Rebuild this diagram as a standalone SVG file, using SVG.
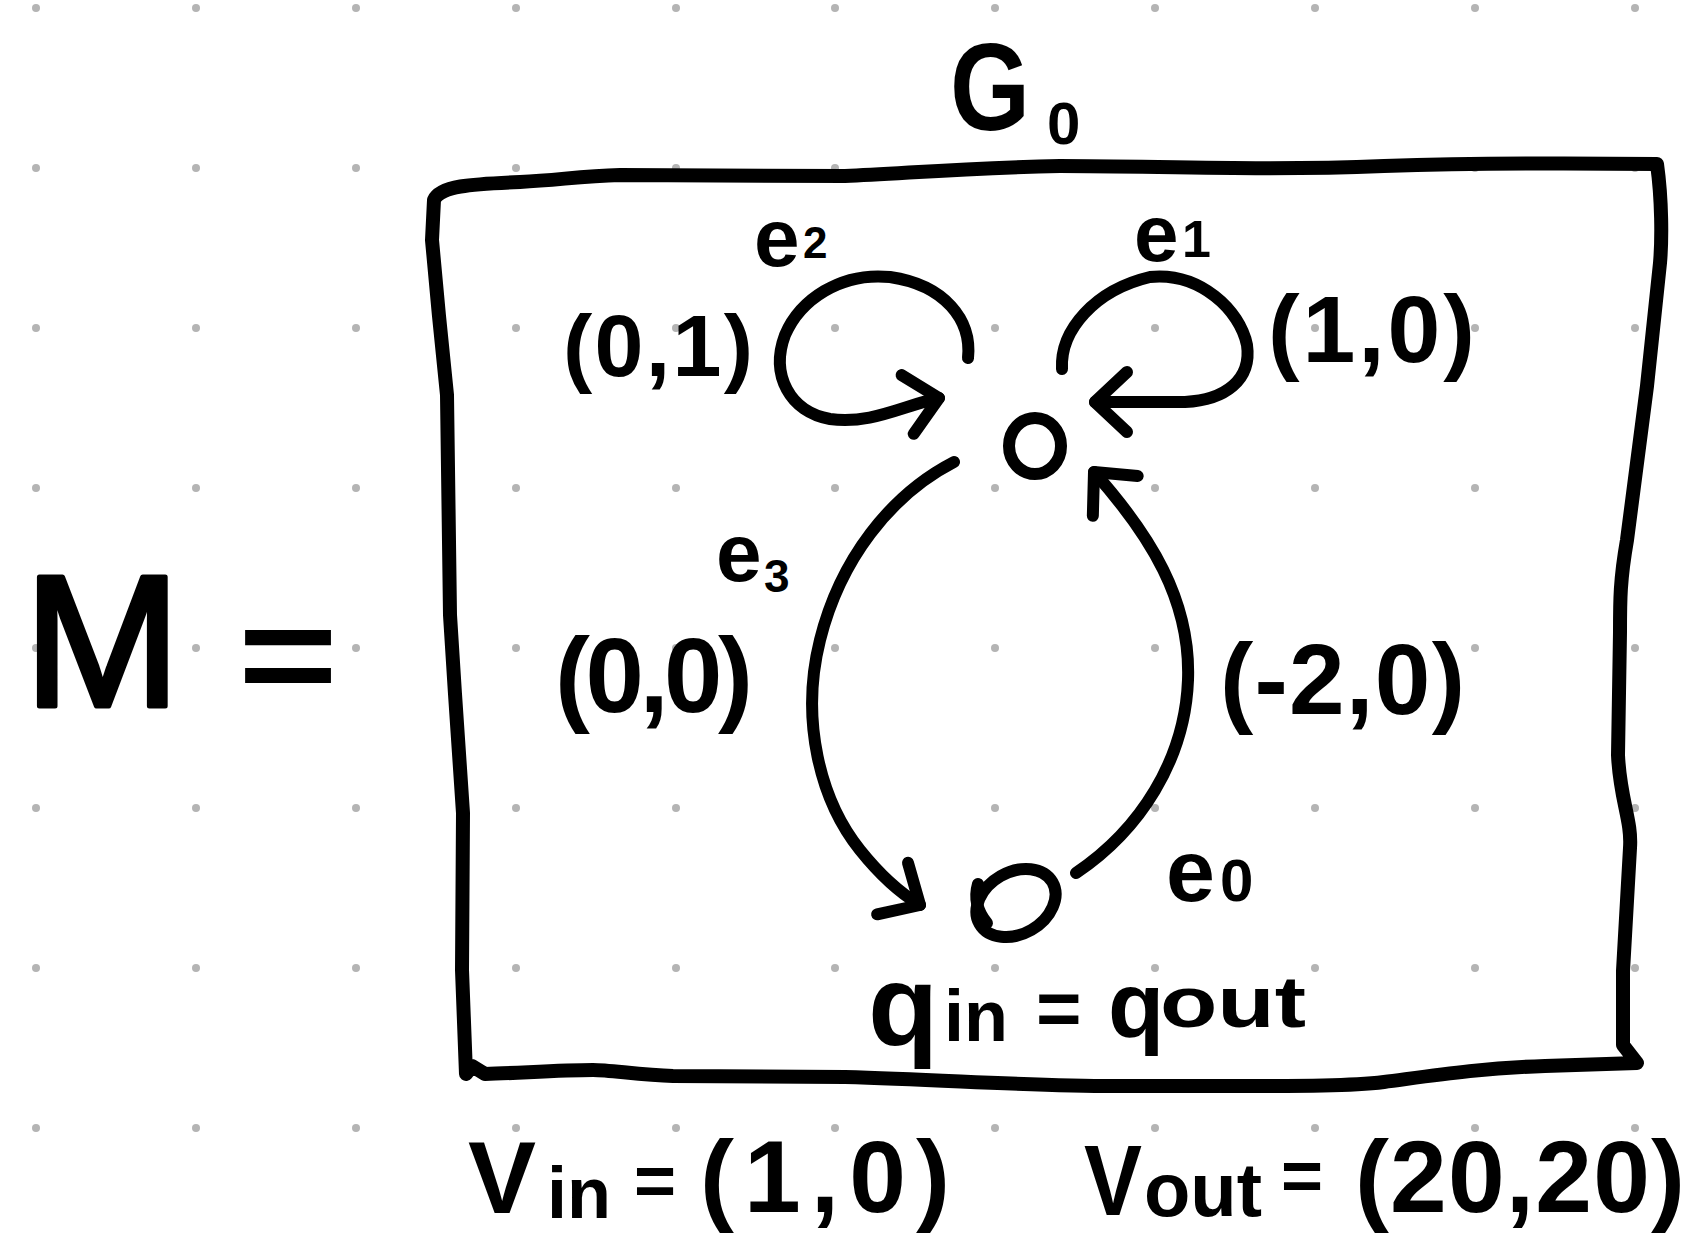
<svg xmlns="http://www.w3.org/2000/svg" width="1690" height="1235" viewBox="0 0 1690 1235">
<style>
.dot{fill:#b4b4b4}
.ink{fill:none;stroke:#000;stroke-width:12;stroke-linecap:round;stroke-linejoin:round}
.frame{fill:none;stroke:#000;stroke-width:14;stroke-linecap:round;stroke-linejoin:round}
.t{font-family:"Liberation Sans",Arial,sans-serif;font-weight:700;fill:#000}
.big{font-family:"Liberation Sans",Arial,sans-serif;font-weight:400;fill:#000;stroke:#000;stroke-width:5;stroke-linejoin:round}
</style>
<defs>
<marker id="arr" markerUnits="userSpaceOnUse" viewBox="-50 -40 60 80" refX="0" refY="0" markerWidth="60" markerHeight="80" orient="auto">
<path d="M -32,-30 L 0,0 L -32,30" fill="none" stroke="#000" stroke-width="12" stroke-linecap="round" stroke-linejoin="round"/>
</marker>
</defs>
<rect width="1690" height="1235" fill="#fff"/>
<g id="grid">
<g class="dot">
<circle cx="36" cy="8" r="4"/><circle cx="196" cy="8" r="4"/><circle cx="356" cy="8" r="4"/><circle cx="516" cy="8" r="4"/><circle cx="676" cy="8" r="4"/><circle cx="835" cy="8" r="4"/><circle cx="995" cy="8" r="4"/><circle cx="1155" cy="8" r="4"/><circle cx="1315" cy="8" r="4"/><circle cx="1475" cy="8" r="4"/><circle cx="1635" cy="8" r="4"/>
<circle cx="36" cy="168" r="4"/><circle cx="196" cy="168" r="4"/><circle cx="356" cy="168" r="4"/><circle cx="516" cy="168" r="4"/><circle cx="676" cy="168" r="4"/><circle cx="835" cy="168" r="4"/><circle cx="995" cy="168" r="4"/><circle cx="1155" cy="168" r="4"/><circle cx="1315" cy="168" r="4"/><circle cx="1475" cy="168" r="4"/><circle cx="1635" cy="168" r="4"/>
<circle cx="36" cy="328" r="4"/><circle cx="196" cy="328" r="4"/><circle cx="356" cy="328" r="4"/><circle cx="516" cy="328" r="4"/><circle cx="676" cy="328" r="4"/><circle cx="835" cy="328" r="4"/><circle cx="995" cy="328" r="4"/><circle cx="1155" cy="328" r="4"/><circle cx="1315" cy="328" r="4"/><circle cx="1475" cy="328" r="4"/><circle cx="1635" cy="328" r="4"/>
<circle cx="36" cy="488" r="4"/><circle cx="196" cy="488" r="4"/><circle cx="356" cy="488" r="4"/><circle cx="516" cy="488" r="4"/><circle cx="676" cy="488" r="4"/><circle cx="835" cy="488" r="4"/><circle cx="995" cy="488" r="4"/><circle cx="1155" cy="488" r="4"/><circle cx="1315" cy="488" r="4"/><circle cx="1475" cy="488" r="4"/><circle cx="1635" cy="488" r="4"/>
<circle cx="36" cy="648" r="4"/><circle cx="196" cy="648" r="4"/><circle cx="356" cy="648" r="4"/><circle cx="516" cy="648" r="4"/><circle cx="676" cy="648" r="4"/><circle cx="835" cy="648" r="4"/><circle cx="995" cy="648" r="4"/><circle cx="1155" cy="648" r="4"/><circle cx="1315" cy="648" r="4"/><circle cx="1475" cy="648" r="4"/><circle cx="1635" cy="648" r="4"/>
<circle cx="36" cy="808" r="4"/><circle cx="196" cy="808" r="4"/><circle cx="356" cy="808" r="4"/><circle cx="516" cy="808" r="4"/><circle cx="676" cy="808" r="4"/><circle cx="835" cy="808" r="4"/><circle cx="995" cy="808" r="4"/><circle cx="1155" cy="808" r="4"/><circle cx="1315" cy="808" r="4"/><circle cx="1475" cy="808" r="4"/><circle cx="1635" cy="808" r="4"/>
<circle cx="36" cy="968" r="4"/><circle cx="196" cy="968" r="4"/><circle cx="356" cy="968" r="4"/><circle cx="516" cy="968" r="4"/><circle cx="676" cy="968" r="4"/><circle cx="835" cy="968" r="4"/><circle cx="995" cy="968" r="4"/><circle cx="1155" cy="968" r="4"/><circle cx="1315" cy="968" r="4"/><circle cx="1475" cy="968" r="4"/><circle cx="1635" cy="968" r="4"/>
<circle cx="36" cy="1128" r="4"/><circle cx="196" cy="1128" r="4"/><circle cx="356" cy="1128" r="4"/><circle cx="516" cy="1128" r="4"/><circle cx="676" cy="1128" r="4"/><circle cx="835" cy="1128" r="4"/><circle cx="995" cy="1128" r="4"/><circle cx="1155" cy="1128" r="4"/><circle cx="1315" cy="1128" r="4"/><circle cx="1475" cy="1128" r="4"/><circle cx="1635" cy="1128" r="4"/>
</g>
</g>
<g id="lhs">
<text class="big" x="24" y="706" font-size="188">M</text>
<text class="t" x="238" y="703" font-size="140" textLength="100" lengthAdjust="spacingAndGlyphs">=</text>
</g>
<g id="G0">
<path class="frame" d="M 434,200 C 440,186 470,184 520,182 C 560,180 580,176 620,175 L 845,176 C 900,174 960,168 1060,166 C 1160,166 1260,171 1384,166 C 1480,163 1560,163 1657,164 C 1662,200 1662,240 1660,263 L 1647,386 L 1627,540 C 1620,580 1620,600 1620,632 L 1618,755 C 1620,800 1632,820 1630,848 L 1623,971 L 1623,1045 L 1637,1063 L 1545,1066 C 1480,1068 1430,1076 1384,1082 C 1350,1086 1300,1086 1250,1086 L 1114,1086 C 1030,1086 950,1080 845,1077 L 673,1076 C 640,1075 610,1070 593,1070 C 560,1070 520,1073 485,1074 L 472,1066 L 466,1074 L 462,970 L 463,813 L 455,694 L 450,615 L 447,395 L 439,316 L 432,240 Z"/>
<text class="t" x="950" y="130" font-size="125" textLength="80" lengthAdjust="spacingAndGlyphs">G</text>
<text class="t" x="1047" y="144" font-size="60">0</text>
</g>
<g id="q_top">
<ellipse class="ink" cx="1035" cy="446" rx="26" ry="28"/>
</g>
<g id="q_bottom">
<ellipse class="ink" cx="1016" cy="903" rx="42" ry="31" transform="rotate(-30 1016 903)"/>
<path class="ink" d="M 978,884 Q 972,905 987,923" stroke-width="4"/>
<text class="t" y="1045" font-size="115"><tspan x="868">q</tspan><tspan x="944" y="1041" font-size="72">in</tspan><tspan x="1036" y="1035" font-size="78">=</tspan><tspan x="1108" y="1037" font-size="92">q</tspan></text>
<text class="t" x="1160" y="1027" font-size="72" textLength="146" lengthAdjust="spacingAndGlyphs">out</text>
</g>
<g id="connectors">
<path id="e2" class="ink" d="M 968,358 C 972,320 945,285 890,277 C 840,272 800,300 785,335 C 770,375 790,412 830,419 C 870,425 905,405 939,398" marker-end="url(#arr)"/>
<path id="e1" class="ink" d="M 1062,369 C 1060,330 1095,290 1150,277 C 1200,272 1240,310 1247,345 C 1252,380 1225,400 1185,402 L 1095,402" marker-end="url(#arr)"/>
<path id="e3" class="ink" d="M 954,462 C 890,495 840,560 820,640 C 800,720 820,800 860,850 C 880,875 900,893 920,905" marker-end="url(#arr)"/>
<path id="e0" class="ink" d="M 1076,873 C 1140,830 1185,760 1188,680 C 1191,600 1150,535 1094,472" marker-end="url(#arr)"/>
</g>
<g id="edge-labels">
<text class="t" x="754" y="266" font-size="82">e</text><text class="t" x="803" y="258" font-size="44">2</text>
<text class="t" x="563" y="376" font-size="88" textLength="190">(0,1)</text>
<text class="t" x="1134" y="261" font-size="80">e</text><text class="t" x="1182" y="257" font-size="52">1</text>
<text class="t" x="716" y="581" font-size="82">e</text><text class="t" x="764" y="592" font-size="46">3</text>
<text class="t" x="1268" y="362" font-size="95" textLength="207">(1,0)</text>
<text class="t" x="555" y="712" font-size="105" textLength="198">(0,0)</text>
<text class="t" x="1220" y="714" font-size="100" textLength="245">(-2,0)</text>
<text class="t" x="1166" y="901" font-size="88">e</text><text class="t" x="1220" y="901" font-size="60">0</text>
</g>
<g id="io">
<text class="t" x="468" y="1213" font-size="102">V</text>
<text class="t" x="547" y="1218" font-size="72">in</text>
<text class="t" x="634" y="1205" font-size="72">=</text>
<text class="t" x="700" y="1212" font-size="102" textLength="250">(1,0)</text>
<text class="t" x="1084" y="1215" font-size="100" textLength="58" lengthAdjust="spacingAndGlyphs">V</text>
<text class="t" x="1144" y="1216" font-size="76" textLength="118" lengthAdjust="spacingAndGlyphs">out</text>
<text class="t" x="1281" y="1200" font-size="72">=</text>
<text class="t" x="1355" y="1212" font-size="102" textLength="330">(20,20)</text>
</g>
</svg>
